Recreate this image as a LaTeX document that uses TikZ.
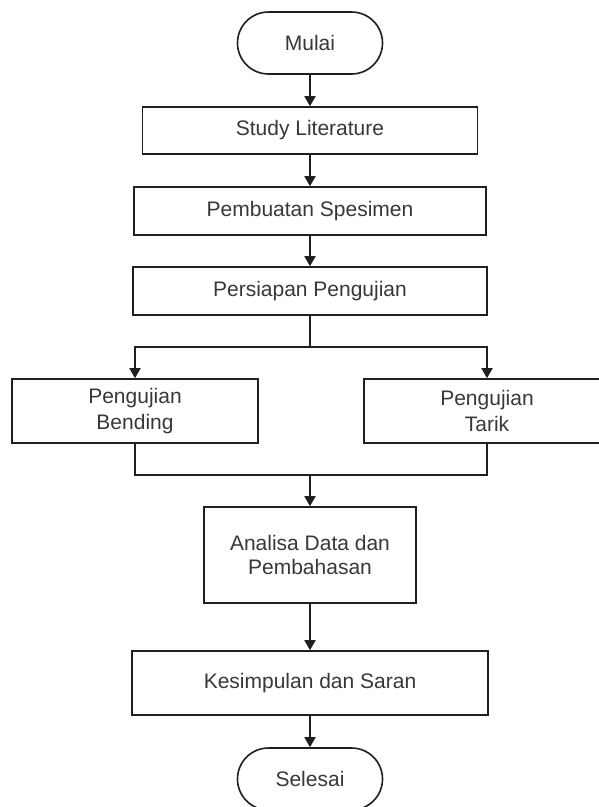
\documentclass[tikz,border=0pt]{standalone}
\usepackage{fontspec}
\setmainfont{Liberation Sans}
\usetikzlibrary{arrows.meta}
\begin{document}
\begin{tikzpicture}[x=1pt,y=-1pt,
  line/.style={draw=black!88, line width=1.6pt},
  arr/.style={line, -{Triangle[length=10pt,width=11pt]}},
  box/.style={line, rectangle, fill=white, inner sep=0pt, align=center,
    font=\fontsize{21}{26}\selectfont, text=black!78},
  term/.style={box, rounded corners=31pt, minimum width=145pt, minimum height=62pt}]
\useasboundingbox (0,0) rectangle (599,807);
\clip (0,0) rectangle (599,807);
\fill[white] (0,0) rectangle (599,807);

\node[term] (mulai) at (310,43) {Mulai};
\node[box, minimum width=335pt, minimum height=47pt] (study) at (310,130.5) {Study Literature};
\node[box, minimum width=352pt, minimum height=48pt] (buat) at (310,211) {Pembuatan Spesimen};
\node[box, minimum width=354pt, minimum height=48pt] (siap) at (310,291) {Persiapan Pengujian};
\node[box, minimum width=246pt, minimum height=64pt] (bend) at (135,411) {Pengujian\\Bending};
\node[box, minimum width=246pt, minimum height=64pt] (tarik) at (487,411) {Pengujian\\Tarik};
\node[box, minimum width=212pt, minimum height=96pt, font=\fontsize{21}{24}\selectfont] (anal) at (310,555) {Analisa Data dan\\Pembahasan};
\node[box, minimum width=356pt, minimum height=64pt] (simp) at (310,683) {Kesimpulan dan Saran};
\node[term] (selesai) at (310,779) {Selesai};

\coordinate (split) at (310,347);
\coordinate (merge) at (310,475);

\draw[arr] (mulai) -- (study);
\draw[arr] (study) -- (buat);
\draw[arr] (buat) -- (siap);
\draw[line] (siap) -- (split);
\draw[arr] (split) -| (bend);
\draw[arr] (split) -| (tarik);
\draw[line] (bend.south) |- (merge) -| (tarik.south);
\draw[arr] (merge) -- (anal);
\draw[arr] (anal) -- (simp);
\draw[arr] (simp) -- (selesai);
\end{tikzpicture}
\end{document}
